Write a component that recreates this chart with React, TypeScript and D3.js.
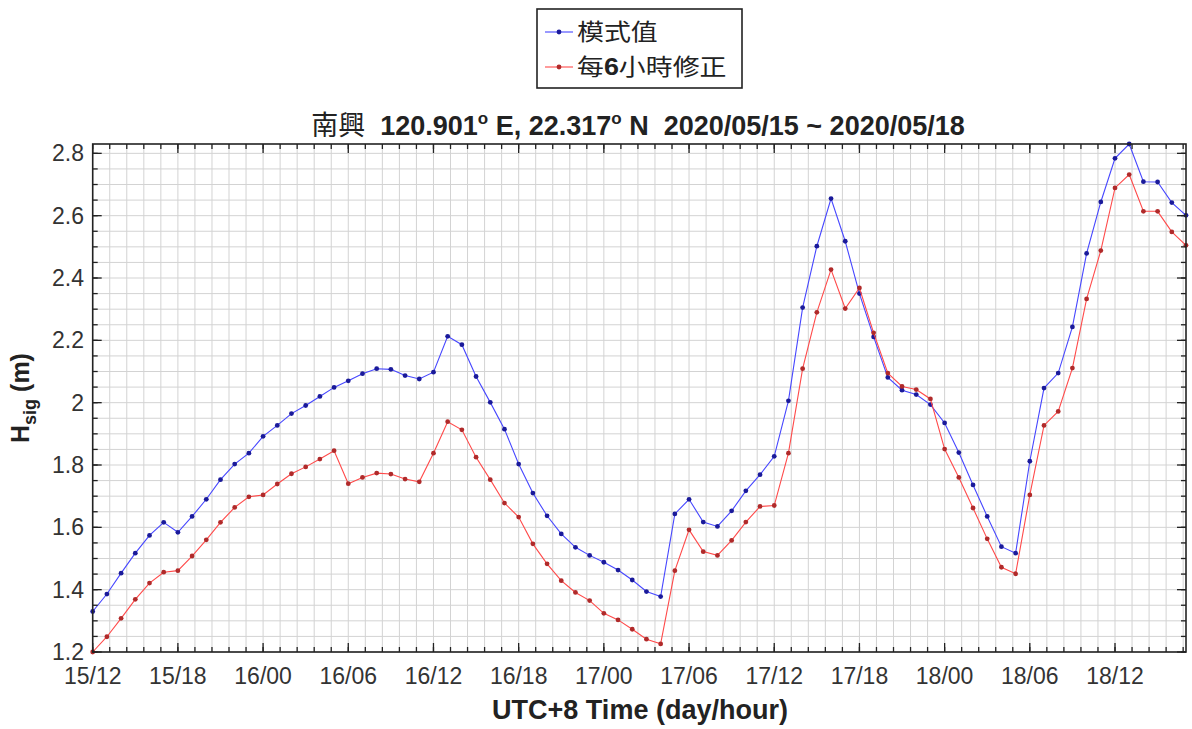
import React from "react";
import * as d3 from "d3";

const xTickLabels = ["15/12","15/18","16/00","16/06","16/12","16/18","17/00","17/06","17/12","17/18","18/00","18/06","18/12"];
const yTickLabels = ["1.2","1.4","1.6","1.8","2","2.2","2.4","2.6","2.8"];

// hourly values starting 2020/05/15 12:00 (UTC+8)
const modelValues = [
  1.330,1.386,1.453,1.517,1.574,1.616,1.584,1.635,1.690,1.753,
  1.803,1.838,1.892,1.927,1.965,1.991,2.020,2.049,2.070,2.093,
  2.109,2.107,2.087,2.076,2.098,2.213,2.186,2.084,2.001,1.915,
  1.803,1.710,1.637,1.579,1.536,1.510,1.488,1.463,1.431,1.394,
  1.378,1.643,1.690,1.617,1.603,1.653,1.717,1.769,1.828,2.006,
  2.305,2.502,2.655,2.518,2.350,2.211,2.081,2.040,2.026,1.994,
  1.935,1.840,1.736,1.635,1.538,1.517,1.812,2.047,2.095,2.243,
  2.479,2.644,2.784,2.830,2.709,2.708,2.642,2.601
];
const correctedValues = [
  1.200,1.249,1.308,1.369,1.421,1.456,1.461,1.508,1.560,1.616,
  1.664,1.698,1.704,1.739,1.772,1.794,1.819,1.846,1.740,1.760,
  1.774,1.771,1.755,1.746,1.838,1.939,1.913,1.825,1.753,1.678,
  1.633,1.547,1.483,1.429,1.391,1.365,1.324,1.303,1.273,1.241,
  1.226,1.461,1.592,1.522,1.510,1.558,1.617,1.667,1.670,1.838,
  2.109,2.290,2.427,2.302,2.368,2.224,2.095,2.052,2.042,2.012,
  1.851,1.760,1.662,1.563,1.472,1.451,1.704,1.927,1.972,2.111,
  2.333,2.488,2.689,2.732,2.614,2.614,2.548,2.505
];
const seriesNames = ["模式值", "每6小時修正"];

const W = 1192, H = 729;
const L = 92.7, R = 1186, T = 144, B = 652;
const FONT = "'Liberation Sans', Arial, Helvetica, sans-serif";
const CJK = "'Noto Sans CJK TC', 'Noto Sans CJK SC', sans-serif";

export default function App() {
  const x = d3.scaleLinear().domain([0, 77]).range([L, R]);
  const y = d3.scaleLinear().domain([1.2, 2.83]).range([B, T]);

  const xMinor = d3.range(0, 77.001, 1.2);
  const xMajor = d3.range(0, 73, 6);
  const yMinor = d3.range(1.2, 2.8001, 0.05);
  const yMajor = d3.range(1.2, 2.8001, 0.2);

  const line = d3.line<number>().x((_, i) => x(i)).y((v) => y(v));

  const series = [
    { vals: modelValues, line: "#4646ff", mark: "#1a1a9a" },
    { vals: correctedValues, line: "#ff4a4a", mark: "#b02a2a" },
  ];

  const majLen = 9, minLen = 5;

  return (
    <svg width={W} height={H} style={{ position: "absolute", left: 0, top: 0, background: "#fff" }}>
      <rect x={0} y={0} width={W} height={H} fill="#fff" />
      {/* grid */}
      <g stroke="#d3d3d3" strokeWidth={1}>
        {xMinor.map((h, i) => (
          <line key={"gx" + i} x1={x(h)} x2={x(h)} y1={T} y2={B} />
        ))}
        {yMinor.map((v, i) => (
          <line key={"gy" + i} x1={L} x2={R} y1={y(v)} y2={y(v)} />
        ))}
      </g>
      {/* series */}
      {series.map((s, si) => (
        <g key={"s" + si}>
          <path d={line(s.vals) || ""} fill="none" stroke={s.line} strokeWidth={1.1} />
          {s.vals.map((v, i) => (
            <circle key={i} cx={x(i)} cy={y(v)} r={2.4} fill={s.mark} />
          ))}
        </g>
      ))}
      {/* ticks */}
      <g stroke="#222" strokeWidth={1.3}>
        {xMinor.map((h, i) => (
          <g key={"tx" + i}>
            <line x1={x(h)} x2={x(h)} y1={B} y2={B - minLen} />
            <line x1={x(h)} x2={x(h)} y1={T} y2={T + minLen} />
          </g>
        ))}
        {xMajor.map((h, i) => (
          <g key={"txm" + i}>
            <line x1={x(h)} x2={x(h)} y1={B} y2={B - majLen} />
            <line x1={x(h)} x2={x(h)} y1={T} y2={T + majLen} />
          </g>
        ))}
        {yMinor.map((v, i) => (
          <g key={"ty" + i}>
            <line x1={L} x2={L + minLen} y1={y(v)} y2={y(v)} />
            <line x1={R} x2={R - minLen} y1={y(v)} y2={y(v)} />
          </g>
        ))}
        {yMajor.map((v, i) => (
          <g key={"tym" + i}>
            <line x1={L} x2={L + majLen} y1={y(v)} y2={y(v)} />
            <line x1={R} x2={R - majLen} y1={y(v)} y2={y(v)} />
          </g>
        ))}
      </g>
      <rect x={L} y={T} width={R - L} height={B - T} fill="none" stroke="#222" strokeWidth={1.6} />
      {/* tick labels */}
      <g fontFamily={FONT} fontSize={23} fill="#333">
        {xTickLabels.map((t, i) => (
          <text key={"xl" + i} x={x(xMajor[i])} y={684} textAnchor="middle">{t}</text>
        ))}
        {yTickLabels.map((t, i) => (
          <text key={"yl" + i} x={84} y={y(yMajor[i]) + 8} textAnchor="end">{t}</text>
        ))}
      </g>
      {/* axis labels */}
      <text x={640} y={719} textAnchor="middle" fontFamily={FONT} fontWeight="bold" fontSize={27} fill="#222">
        UTC+8 Time (day/hour)
      </text>
      <text transform="translate(29,398) rotate(-90)" textAnchor="middle" fontFamily={FONT} fontWeight="bold" fontSize={25} fill="#222">
        H<tspan fontSize={18} dy={7}>sig</tspan><tspan dy={-7}> (m)</tspan>
      </text>
      {/* title */}
      <text x={638} y={135} textAnchor="middle" fontFamily={FONT} fontWeight="bold" fontSize={27} fill="#222">
        <tspan fontFamily={CJK} fontWeight="normal">南興</tspan>
        <tspan>{"\u00a0\u00a0120.901"}</tspan>
        <tspan fontSize={17} dy={-11}>o</tspan>
        <tspan dy={11}>{" E, 22.317"}</tspan>
        <tspan fontSize={17} dy={-11}>o</tspan>
        <tspan dy={11}>{" N\u00a0\u00a02020/05/15 ~ 2020/05/18"}</tspan>
      </text>
      {/* legend */}
      <g>
        <rect x={537} y={9} width={205} height={79} fill="#fff" stroke="#222" strokeWidth={1.6} />
        {series.map((s, i) => {
          const ly = 32 + i * 35;
          return (
            <g key={"lg" + i}>
              <line x1={545} x2={573} y1={ly} y2={ly} stroke={s.line} strokeWidth={1.1} />
              <circle cx={559} cy={ly} r={2.4} fill={s.mark} />
              <text transform={`translate(577,${ly + 8}) scale(1.17,1)`} fontFamily={CJK} fontSize={23} fill="#222">
                {i === 0 ? seriesNames[0] : (
                  <>
                    <tspan>每</tspan>
                    <tspan fontFamily={FONT} fontWeight="bold">6</tspan>
                    <tspan>小時修正</tspan>
                  </>
                )}
              </text>
            </g>
          );
        })}
      </g>
    </svg>
  );
}
